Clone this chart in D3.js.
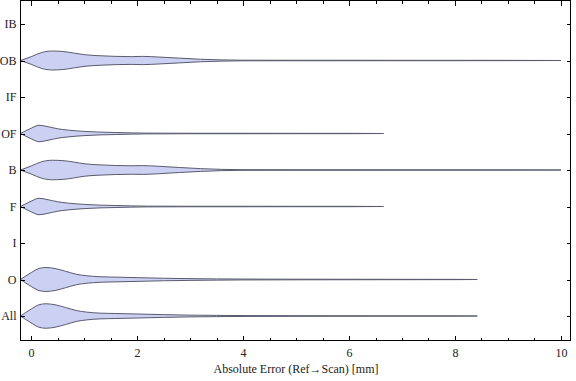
<!DOCTYPE html>
<html>
<head>
<meta charset="utf-8">
<script src="https://cdn.jsdelivr.net/npm/d3@7"></script>
<style>
  body { margin: 0; background: #fff; }
  svg, svg text { font-family: "Liberation Serif", "DejaVu Serif", serif; font-size: 12px; }
  .violin { fill: #ccd0f2; stroke: #5a5c6e; stroke-width: 1px; }
  .frame { fill: none; stroke: #000; stroke-width: 1px; shape-rendering: crispEdges; }
  .tick line { stroke: #000; shape-rendering: crispEdges; }
  .domain { display: none; }
</style>
</head>
<body>
<svg id="chart" width="576" height="381"></svg>
<script>
// categories top to bottom
var categories = ["IB", "OB", "IF", "OF", "B", "F", "I", "O", "All"];

// estimated density profiles, [error mm, relative density]
var densOB = [[-0.2,0],[0,0.3],[0.2,0.64],[0.4,0.76],[0.6,0.72],[0.8,0.6],[1.0,0.47],[1.3,0.38],[1.6,0.33],[1.9,0.31],[2.1,0.33],[2.4,0.28],[2.8,0.19],[3.2,0.1],[3.6,0.05],[4.0,0.025],[5,0.02],[6,0.02],[7,0.015],[8,0.015],[9,0.012],[10,0]];
var densOF = [[-0.2,0],[0,0.42],[0.15,0.66],[0.3,0.56],[0.5,0.38],[0.7,0.27],[1.0,0.17],[1.3,0.11],[1.6,0.08],[1.9,0.05],[2.2,0.03],[3,0.02],[4,0.02],[5,0.015],[6,0.015],[6.65,0]];
var densB  = [[-0.2,0],[0,0.32],[0.2,0.66],[0.4,0.78],[0.6,0.75],[0.8,0.64],[1.0,0.5],[1.3,0.41],[1.6,0.36],[1.9,0.34],[2.1,0.35],[2.4,0.3],[2.8,0.2],[3.2,0.11],[3.6,0.05],[4.0,0.025],[5,0.02],[6,0.02],[7,0.015],[8,0.015],[9,0.012],[10,0]];
var densF  = [[-0.2,0],[0,0.42],[0.15,0.66],[0.3,0.56],[0.5,0.38],[0.7,0.27],[1.0,0.17],[1.3,0.11],[1.6,0.08],[1.9,0.05],[2.2,0.03],[3,0.02],[4,0.02],[5,0.015],[6,0.015],[6.65,0]];
var densO  = [[-0.2,0],[0,0.55],[0.15,0.88],[0.28,0.96],[0.45,0.88],[0.65,0.66],[0.85,0.42],[1.05,0.3],[1.3,0.22],[1.6,0.19],[2.0,0.15],[2.5,0.1],[3.0,0.07],[3.5,0.05],[4.0,0.035],[5,0.025],[6,0.02],[7,0.015],[8,0.012],[8.42,0]];
var densAll = [[-0.2,0],[0,0.55],[0.15,0.9],[0.28,0.98],[0.45,0.9],[0.65,0.68],[0.85,0.44],[1.05,0.31],[1.3,0.23],[1.6,0.2],[2.0,0.16],[2.5,0.11],[3.0,0.07],[3.5,0.05],[4.0,0.035],[5,0.025],[6,0.02],[7,0.015],[8,0.012],[8.42,0]];

var series = [
  {name: "OB", values: densOB},
  {name: "OF", values: densOF},
  {name: "B", values: densB},
  {name: "F", values: densF},
  {name: "O", values: densO},
  {name: "All", values: densAll}
];

var xTicks = [0, 2, 4, 6, 8, 10];
var xMinorTicks = [0.5, 1, 1.5, 2.5, 3, 3.5, 4.5, 5, 5.5, 6.5, 7, 7.5, 8.5, 9, 9.5];
var xTitle = "Absolute Error (Ref\u2192Scan) [mm]";

var svg = d3.select("#chart");

var plotLeft = 20.5, plotRight = 570.5, plotTop = 0.5, plotBottom = 340.5;

var x = d3.scaleLinear().domain([-0.2, 10.18]).range([plotLeft, plotRight]);
var y = d3.scalePoint().domain(categories).range([24, 316]);
var w = d3.scaleLinear().domain([0, 1]).range([0, 12.5]);

// violins
series.forEach(function(s) {
  var cy = y(s.name);
  var area = d3.area()
    .curve(d3.curveMonotoneX)
    .x(function(d) { return x(d[0]); })
    .y0(function(d) { return cy + w(d[1]); })
    .y1(function(d) { return cy - w(d[1]); });
  svg.append("path")
    .datum(s.values)
    .attr("class", "violin")
    .attr("d", area);
});

// frame
svg.append("rect")
  .attr("class", "frame")
  .attr("x", plotLeft).attr("y", plotTop)
  .attr("width", plotRight - plotLeft).attr("height", plotBottom - plotTop);

// bottom axis, ticks inward
var gx = svg.append("g").attr("transform", "translate(0," + plotBottom + ")")
  .call(d3.axisBottom(x).tickValues(xTicks).tickSize(-5).tickPadding(6).tickFormat(d3.format("d")));
gx.attr("font-family", null).attr("font-size", null);
gx.selectAll("text").attr("fill", "#222").attr("dy", "0.9em");

svg.append("g").attr("transform", "translate(0," + plotBottom + ")")
  .call(d3.axisBottom(x).tickValues(xMinorTicks).tickSize(-3).tickFormat(""));

// top ticks
svg.append("g").attr("transform", "translate(0," + plotTop + ")")
  .call(d3.axisTop(x).tickValues(xTicks).tickSize(-5).tickFormat(""));
svg.append("g").attr("transform", "translate(0," + plotTop + ")")
  .call(d3.axisTop(x).tickValues(xMinorTicks).tickSize(-3).tickFormat(""));

// left axis, category labels
var gy = svg.append("g").attr("transform", "translate(" + plotLeft + ",0)")
  .call(d3.axisLeft(y).tickSize(-4).tickPadding(4));
gy.attr("font-family", null).attr("font-size", null);
gy.selectAll("text").attr("fill", "#222");

// right ticks
svg.append("g").attr("transform", "translate(" + plotRight + ",0)")
  .call(d3.axisRight(y).tickSize(-4).tickFormat(""));

svg.append("text")
  .attr("x", 296).attr("y", 373)
  .attr("text-anchor", "middle")
  .attr("fill", "#222")
  .text(xTitle);
</script>
</body>
</html>
